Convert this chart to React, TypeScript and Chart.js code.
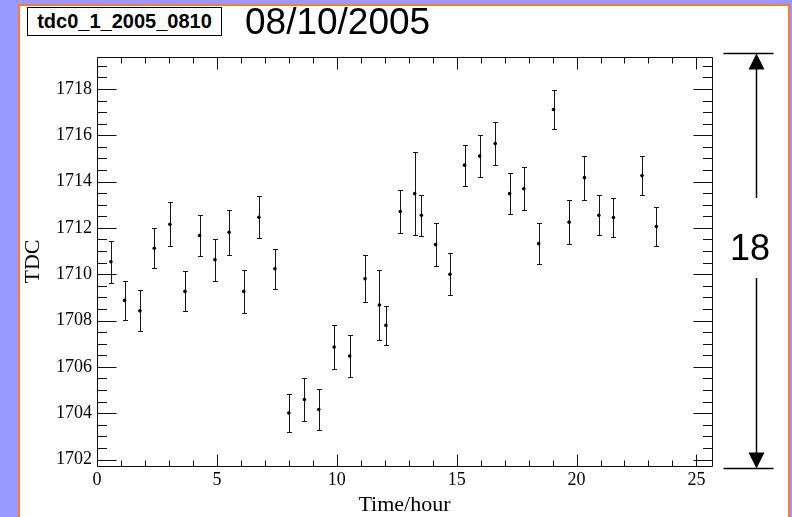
import React, { useEffect, useRef } from 'react';
import { Chart, registerables } from 'chart.js';

Chart.register(...registerables);

// ---- data ----
const HOURS = [
  0.58, 1.15, 1.79, 2.39, 3.04, 3.67, 4.28, 4.92, 5.51, 6.12, 6.75, 7.42,
  8.0, 8.65, 9.25, 9.89, 10.54, 11.18, 11.78, 12.05, 12.65, 13.25, 13.53, 14.12,
  14.72, 15.33, 15.96, 16.61, 17.21, 17.8, 18.42, 19.04, 19.69, 20.33, 20.93, 21.54,
  22.73, 23.33,
];
const TDC = [
  1710.54, 1708.87, 1708.42, 1711.12, 1712.16, 1709.26, 1711.67, 1710.63, 1711.81, 1709.26, 1712.46, 1710.24,
  1704.01, 1704.59, 1704.16, 1706.86, 1706.47, 1709.81, 1708.67, 1707.79, 1712.71, 1713.48, 1712.55, 1711.28,
  1710.0, 1714.71, 1715.1, 1715.64, 1713.48, 1713.69, 1711.32, 1717.11, 1712.25, 1714.17, 1712.55, 1712.45,
  1714.26, 1712.06,
];
const TDC_ERR = [
  0.9, 0.85, 0.89, 0.86, 0.94, 0.86, 0.88, 0.91, 0.98, 0.94, 0.91, 0.86,
  0.83, 0.91, 0.9, 0.94, 0.9, 1.01, 1.5, 0.83, 0.91, 1.8, 0.88, 0.93,
  0.91, 0.88, 0.91, 0.93, 0.9, 0.93, 0.88, 0.86, 0.96, 0.95, 0.86, 0.86,
  0.86, 0.86,
];
const X_TICKS = [0, 5, 10, 15, 20, 25];
const Y_TICKS = [1702, 1704, 1706, 1708, 1710, 1712, 1714, 1716, 1718];
const X_MINOR_STEP = 1;
const Y_MINOR_STEP = 0.5;
const X_RANGE = [0, 25.65];
const Y_RANGE = [1701.72, 1719.38];
const BOX_LABEL = 'tdc0_1_2005_0810';
const DATE_LABEL = '08/10/2005';
const SPAN_LABEL = '18';

function stepValues(min: number, max: number, step: number): number[] {
  const out: number[] = [];
  const start = Math.ceil(min / step - 1e-9);
  const end = Math.floor(max / step + 1e-9);
  for (let k = start; k <= end; k++) out.push(k * step);
  return out;
}

const rootPlugin = {
  id: 'rootStyle',
  beforeDatasetsDraw(chart: any) {
    const { ctx, scales } = chart;
    const x = scales.x;
    const y = scales.y;
    ctx.save();
    ctx.strokeStyle = '#161616';
    ctx.lineWidth = 1;
    HOURS.forEach((h, i) => {
      const px = Math.round(x.getPixelForValue(h)) + 0.5;
      const top = Math.round(y.getPixelForValue(TDC[i] + TDC_ERR[i])) + 0.5;
      const bot = Math.round(y.getPixelForValue(TDC[i] - TDC_ERR[i])) + 0.5;
      ctx.beginPath();
      ctx.moveTo(px, top);
      ctx.lineTo(px, bot);
      ctx.moveTo(px - 2.5, top);
      ctx.lineTo(px + 2.5, top);
      ctx.moveTo(px - 2.5, bot);
      ctx.lineTo(px + 2.5, bot);
      ctx.stroke();
    });
    ctx.restore();
  },
  afterDraw(chart: any) {
    const { ctx, chartArea, scales } = chart;
    const x = scales.x;
    const y = scales.y;
    const L = Math.round(chartArea.left) + 0.5;
    const R = Math.round(chartArea.right) + 0.5;
    const T = Math.round(chartArea.top) + 0.5;
    const B = Math.round(chartArea.bottom) + 0.5;
    ctx.save();
    ctx.strokeStyle = '#111';
    ctx.lineWidth = 1;
    ctx.beginPath();
    ctx.rect(L, T, R - L, B - T);
    ctx.stroke();

    ctx.beginPath();
    const xMajor = new Set(X_TICKS);
    stepValues(X_RANGE[0], X_RANGE[1], X_MINOR_STEP).forEach((v) => {
      const len = xMajor.has(v) ? 12 : 6;
      const px = Math.round(x.getPixelForValue(v)) + 0.5;
      ctx.moveTo(px, B);
      ctx.lineTo(px, B - len);
      ctx.moveTo(px, T);
      ctx.lineTo(px, T + len);
    });
    const yMajor = new Set(Y_TICKS);
    stepValues(Y_RANGE[0], Y_RANGE[1], Y_MINOR_STEP).forEach((v) => {
      const len = yMajor.has(v) ? 19 : 9.5;
      const py = Math.round(y.getPixelForValue(v)) + 0.5;
      ctx.moveTo(L, py);
      ctx.lineTo(L + len, py);
      ctx.moveTo(R, py);
      ctx.lineTo(R - len, py);
    });
    ctx.stroke();

    // span arrow on the right
    const ax = R + 44;
    const topY = T - 4;
    const botY = B + 2;
    ctx.strokeStyle = '#000';
    ctx.fillStyle = '#000';
    ctx.lineWidth = 1.5;
    ctx.beginPath();
    ctx.moveTo(R + 11, topY);
    ctx.lineTo(R + 61, topY);
    ctx.moveTo(R + 11, botY);
    ctx.lineTo(R + 61, botY);
    ctx.moveTo(ax, topY + 14);
    ctx.lineTo(ax, 198);
    ctx.moveTo(ax, 278);
    ctx.lineTo(ax, botY - 14);
    ctx.stroke();
    ctx.beginPath();
    ctx.moveTo(ax, topY);
    ctx.lineTo(ax - 8, topY + 16);
    ctx.lineTo(ax + 8, topY + 16);
    ctx.closePath();
    ctx.moveTo(ax, botY);
    ctx.lineTo(ax - 8, botY - 16);
    ctx.lineTo(ax + 8, botY - 16);
    ctx.closePath();
    ctx.fill();
    ctx.restore();
  },
};

export default function App() {
  const canvasRef = useRef<HTMLCanvasElement | null>(null);

  useEffect(() => {
    const canvas = canvasRef.current;
    if (!canvas) return;
    const serif = "'Liberation Serif', 'DejaVu Serif', serif";
    const chart = new Chart(canvas, {
      type: 'scatter',
      data: {
        datasets: [
          {
            label: 'TDC',
            data: HOURS.map((h, i) => ({ x: h, y: TDC[i] })),
            pointRadius: 1.8,
            pointBackgroundColor: '#000',
            pointBorderWidth: 0,
            showLine: false,
          },
        ],
      },
      options: {
        animation: false,
        responsive: false,
        devicePixelRatio: 1,
        layout: { padding: { left: 0, top: 57, right: 80, bottom: 0 } },
        plugins: {
          legend: { display: false },
          tooltip: { enabled: false },
          title: { display: false },
        },
        scales: {
          x: {
            type: 'linear',
            min: X_RANGE[0],
            max: X_RANGE[1],
            afterBuildTicks: (s: any) => {
              s.ticks = X_TICKS.map((v) => ({ value: v }));
            },
            afterFit: (s: any) => {
              s.height = 51;
            },
            grid: { display: false, drawTicks: false },
            border: { display: false },
            ticks: {
              autoSkip: false,
              maxRotation: 0,
              padding: 3,
              color: '#000',
              font: { family: serif, size: 18 },
              callback: (v: any) => String(v),
            },
            title: {
              display: true,
              text: 'Time/hour',
              color: '#000',
              font: { family: serif, size: 22, lineHeight: 1 },
              padding: { top: 0, bottom: 1 },
            },
          },
          y: {
            type: 'linear',
            min: Y_RANGE[0],
            max: Y_RANGE[1],
            afterBuildTicks: (s: any) => {
              s.ticks = Y_TICKS.map((v) => ({ value: v }));
            },
            afterFit: (s: any) => {
              s.width = 97;
            },
            grid: { display: false, drawTicks: false },
            border: { display: false },
            ticks: {
              autoSkip: false,
              padding: 5,
              color: '#000',
              font: { family: serif, size: 18 },
              callback: (v: any) => String(v),
            },
            title: {
              display: true,
              text: 'TDC',
              color: '#000',
              font: { family: serif, size: 22, lineHeight: 1 },
              padding: { top: 22, bottom: 0 },
            },
          },
        },
      },
      plugins: [rootPlugin],
    } as any);
    return () => chart.destroy();
  }, []);

  const sans = "'Liberation Sans', Arial, sans-serif";
  return (
    <div
      style={{
        position: 'fixed',
        left: 0,
        top: 0,
        width: 792,
        height: 517,
        overflow: 'hidden',
        background: '#9999ff',
      }}
    >
      <div
        style={{
          position: 'absolute',
          left: 18,
          top: 4,
          width: 772,
          height: 600,
          boxSizing: 'border-box',
          border: '2px solid #fb7a2e',
          background: '#fff',
        }}
      />
      <canvas
        ref={canvasRef}
        width={792}
        height={517}
        style={{ position: 'absolute', left: 0, top: 0, width: 792, height: 517 }}
      />
      <div
        style={{
          position: 'absolute',
          left: 27,
          top: 7,
          width: 195,
          height: 29,
          boxSizing: 'border-box',
          border: '1px solid #000',
          background: '#fff',
          fontFamily: sans,
          fontWeight: 'bold',
          fontSize: 20,
          lineHeight: '27px',
          textAlign: 'center',
          color: '#000',
        }}
      >
        {BOX_LABEL}
      </div>
      <div
        style={{
          position: 'absolute',
          left: 245,
          top: 0,
          fontFamily: sans,
          fontSize: 37,
          lineHeight: '44px',
          color: '#000',
          whiteSpace: 'nowrap',
        }}
      >
        {DATE_LABEL}
      </div>
      <div
        style={{
          position: 'absolute',
          left: 720,
          top: 226,
          width: 60,
          textAlign: 'center',
          fontFamily: sans,
          fontSize: 36,
          lineHeight: '44px',
          color: '#000',
        }}
      >
        {SPAN_LABEL}
      </div>
    </div>
  );
}
